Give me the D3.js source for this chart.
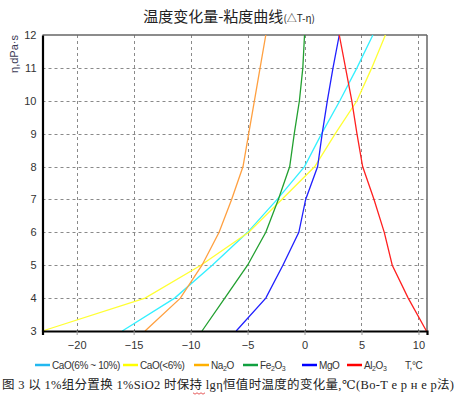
<!DOCTYPE html>
<html><head><meta charset="utf-8">
<script src="https://cdn.jsdelivr.net/npm/d3@7/dist/d3.min.js"></script>
<style>
html,body{margin:0;padding:0;background:#fff;}
svg{display:block;}
</style></head>
<body>
<svg id="chart" width="461" height="396"></svg>
<script>
// ---- data ----
const viscosity = [3, 4, 5, 6, 7, 8, 9, 10, 11, 12];           // η, dPa·s
const cao6to10 = [-16, -11.4, -8.1, -5, -2.4, 0, 1.5, 3.1, 4.6, 6.0];
const caoLess6 = [-23, -14, -9.1, -4.9, -2.0, 0.9, 2.7, 4.6, 5.9, 7.1];
const na2o     = [-14, -10.9, -9.0, -7.5, -6.4, -5.4, -4.9, -4.4, -3.9, -3.4];
const fe2o3    = [-9, -7, -5, -3.4, -2.3, -1.3, -0.9, -0.45, -0.15, 0];
const mgo      = [-6, -3.4, -1.9, -0.5, 0.1, 1.15, 1.55, 2.0, 2.5, 3.05];
const al2o3    = [10.7, 9.1, 7.7, 7.0, 6.1, 5.1, 4.6, 4.15, 3.6, 3.05];
const seriesNames = ["CaO(6% ~ 10%)", "CaO(<6%)", "Na2O", "Fe2O3", "MgO", "Al2O3"];
const xTicks = [-20, -15, -10, -5, 0, 5, 10];
const yTicks = [3, 4, 5, 6, 7, 8, 9, 10, 11, 12];

const seriesValues = [cao6to10, caoLess6, na2o, fe2o3, mgo, al2o3];
const lineColors = ["#33f0ff", "#ffff33", "#ffa040", "#22a030", "#2020ff", "#ff2020"];
const legendColors = ["#22b8f0", "#ffff00", "#ffb000", "#10a040", "#0000ff", "#ff0000"];

(function () {
const svg = d3.select("#chart");
const pL = 42.5, pR = 427, pT = 35, pB = 331;
const x = d3.scaleLinear().domain([-23, 10.75]).range([pL, pR]);
const y = d3.scaleLinear().domain([3, 12]).range([pB, pT]);

// title
const title = svg.append("text").attr("x", 229).attr("y", 22)
  .attr("text-anchor", "middle").attr("fill", "#222")
  .style("font-family", "'Noto Sans CJK SC', sans-serif");
title.append("tspan").style("font-size", "15px").text("温度变化量-粘度曲线");
title.append("tspan").style("font-size", "10px").text("(△T-η)");

// grid
const grid = svg.append("g").attr("stroke", "#8a8a8a").attr("stroke-width", 1)
  .attr("stroke-dasharray", "3,3");
grid.selectAll("line.v").data(xTicks).join("line").attr("class", "v")
  .attr("x1", d => Math.round(x(d)) + 0.5).attr("x2", d => Math.round(x(d)) + 0.5)
  .attr("y1", pT).attr("y2", pB);
grid.selectAll("line.h").data(yTicks.slice(1, -1)).join("line").attr("class", "h")
  .attr("x1", pL).attr("x2", pR)
  .attr("y1", d => Math.round(y(d)) + 0.5).attr("y2", d => Math.round(y(d)) + 0.5);

// frame top/right
svg.append("line").attr("x1", pL).attr("x2", pR).attr("y1", pT).attr("y2", pT)
  .attr("stroke", "#666").attr("stroke-width", 1.5);
svg.append("line").attr("x1", pR).attr("x2", pR).attr("y1", pT).attr("y2", pB)
  .attr("stroke", "#666").attr("stroke-width", 1.5);

// series lines
const lineGen = d3.line().x(d => x(d[0])).y(d => y(d[1]));
const plot = svg.append("g");
seriesValues.forEach((vals, i) => {
  const pts = vals.map((v, j) => [v, viscosity[j]]);
  plot.append("path").datum(pts).attr("d", lineGen)
    .attr("fill", "none").attr("stroke", lineColors[i]).attr("stroke-width", 1.3);
});

// axes
const xAxis = d3.axisBottom(x).tickValues(xTicks).tickSize(4).tickPadding(6);
const gx = svg.append("g").attr("transform", `translate(0,${pB})`).call(xAxis);
const yAxis = d3.axisLeft(y).tickValues(yTicks).tickSize(0).tickPadding(6);
const gy = svg.append("g").attr("transform", `translate(${pL},0)`).call(yAxis);
[gx, gy].forEach(g => {
  g.select(".domain").attr("stroke", "#000").attr("stroke-width", 2.2);
  g.selectAll(".tick text").attr("fill", "#333")
    .style("font-family", "'Liberation Sans', Arial, sans-serif").style("font-size", "11px");
});
gx.selectAll(".tick line").attr("stroke", "#999");

// y-axis title
svg.append("text").attr("transform", "translate(18,35) rotate(-90)")
  .attr("text-anchor", "end").attr("fill", "#3a3a55")
  .style("font-family", "'Liberation Sans', Arial, sans-serif").style("font-size", "11px")
  .text("η,dPa·s");

// legend
const legendX = [35, 123, 194, 243, 302, 347];
const lg = svg.append("g").style("font-family", "'Liberation Sans', Arial, sans-serif")
  .style("font-size", "10px").style("letter-spacing", "-0.4px");
seriesNames.forEach((name, i) => {
  const g = lg.append("g").attr("transform", `translate(${legendX[i]},365)`);
  g.append("line").attr("x1", 0).attr("x2", 15).attr("y1", 0).attr("y2", 0)
    .attr("stroke", legendColors[i]).attr("stroke-width", 2.5);
  const t = g.append("text").attr("x", 17).attr("y", 3.5).attr("fill", "#333");
  const m = name.match(/^([A-Za-z]+)(\d)(O)(\d?)$/);
  if (m) {
    t.append("tspan").text(m[1]);
    t.append("tspan").attr("font-size", "7px").attr("dy", 2).text(m[2]);
    t.append("tspan").attr("dy", -2).text(m[3]);
    if (m[4]) t.append("tspan").attr("font-size", "7px").attr("dy", 2).text(m[4]);
  } else {
    t.text(name);
  }
});
lg.append("text").attr("x", 405).attr("y", 368.5).attr("fill", "#333").text("T,°C");

// caption
svg.append("text").attr("x", 2).attr("y", 389).attr("fill", "#222")
  .style("font-family", "'Liberation Serif', 'DejaVu Serif', 'Noto Sans CJK SC', serif")
  .style("font-size", "12.5px")
  .attr("textLength", 452).attr("lengthAdjust", "spacing")
  .text("图 3 以 1%组分置换 1%SiO2 时保持 lgη恒值时温度的变化量,℃(Bo-Т е р н е р法)");
// spell-check squiggle under "lg"
const sq = d3.range(0, 7).map(k => [193 + k * 2, 393 + (k % 2 ? 1.2 : -0.2)]);
svg.append("path").attr("d", d3.line()(sq)).attr("fill", "none")
  .attr("stroke", "#e03030").attr("stroke-width", 0.8);
})();
</script>
</body></html>
